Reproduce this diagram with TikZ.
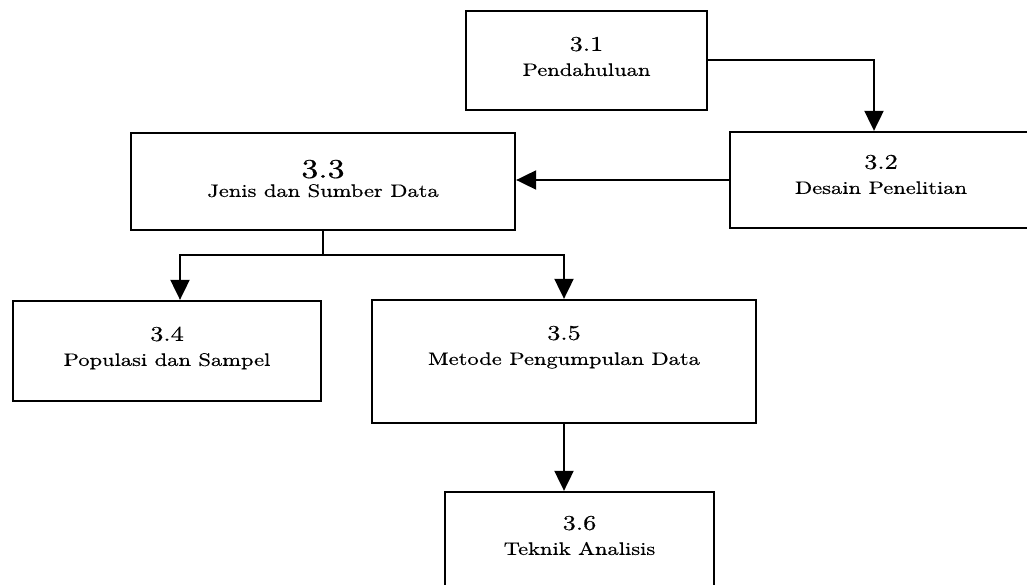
\documentclass[tikz,border=0pt]{standalone}
\usepackage{fontspec}
\newfontfamily\labelfont{lmroman10-regular}[Extension=.otf, FakeBold=0.5]
\usetikzlibrary{arrows.meta,calc}

% two centred lines: section number above, title below
\newcommand{\twolines}[2]{\scalebox{1.25}[1]{\begin{tabular}[t]{@{}c@{}}{\fontsize{21}{25}\selectfont #1}\\#2\end{tabular}}}

\tikzset{
  blk/.style={draw=black, line width=2.3pt, inner sep=0pt, fill=white},
  lbl/.style={anchor=base, inner sep=0pt, font=\labelfont\fontsize{18}{25}\selectfont},
  link/.style={draw=black, line width=2pt},
  arr/.style={link, -{Triangle[length=20pt,width=19pt]}},
}

\begin{document}
\begin{tikzpicture}[x=1pt,y=-1pt]
\useasboundingbox (0,0) rectangle (1027,585);
\clip (0,0) rectangle (1027,585);

% boxes
\node[blk, minimum width=241pt, minimum height=99pt]  (b1) at (586.5,60.5) {};
\node[blk, minimum width=302pt, minimum height=96pt]  (b2) at (881,180) {};
\node[blk, minimum width=384pt, minimum height=97pt]  (b3) at (323,181.5) {};
\node[blk, minimum width=308pt, minimum height=100pt] (b4) at (167,351) {};
\node[blk, minimum width=384pt, minimum height=123pt] (b5) at (564,361.5) {};
\node[blk, minimum width=269pt, minimum height=108pt] (b6) at (579.5,546) {};

% box texts
\node[lbl] (t1) at ([yshift=-41pt]b1.north) {\twolines{3.1}{Pendahuluan}};
\node[lbl] (t2) at ([yshift=-38pt]b2.north) {\twolines{3.2}{Desain Penelitian}};
\node[lbl] (t3) at ([yshift=-46pt]b3.north) {\scalebox{1.25}[1]{\begin{tabular}[t]{@{}c@{}}{\fontsize{27}{25}\selectfont 3.3}\\[-6pt]Jenis dan Sumber Data\end{tabular}}};
\node[lbl] (t4) at ([yshift=-41pt]b4.north) {\twolines{3.4}{Populasi dan Sampel}};
\node[lbl] (t5) at ([yshift=-41pt]b5.north) {\twolines{3.5}{Metode Pengumpulan Data}};
\node[lbl] (t6) at ([yshift=-39pt]b6.north) {\twolines{3.6}{Teknik Analisis}};

% connectors
\draw[arr] (b1.east) -| ([xshift=-7pt]b2.north);
\draw[arr] (b2.west) -- (b2.west -| b3.east);
\coordinate (split) at ($(b3.south)+(0,24)$);
\draw[link] (b3.south) -- (split);
\draw[arr] (split) -| ([xshift=13pt]b4.north);
\draw[arr] (split) -| (b5.north);
\draw[arr] (b5.south) -- (b5.south |- b6.north);
\end{tikzpicture}
\end{document}
